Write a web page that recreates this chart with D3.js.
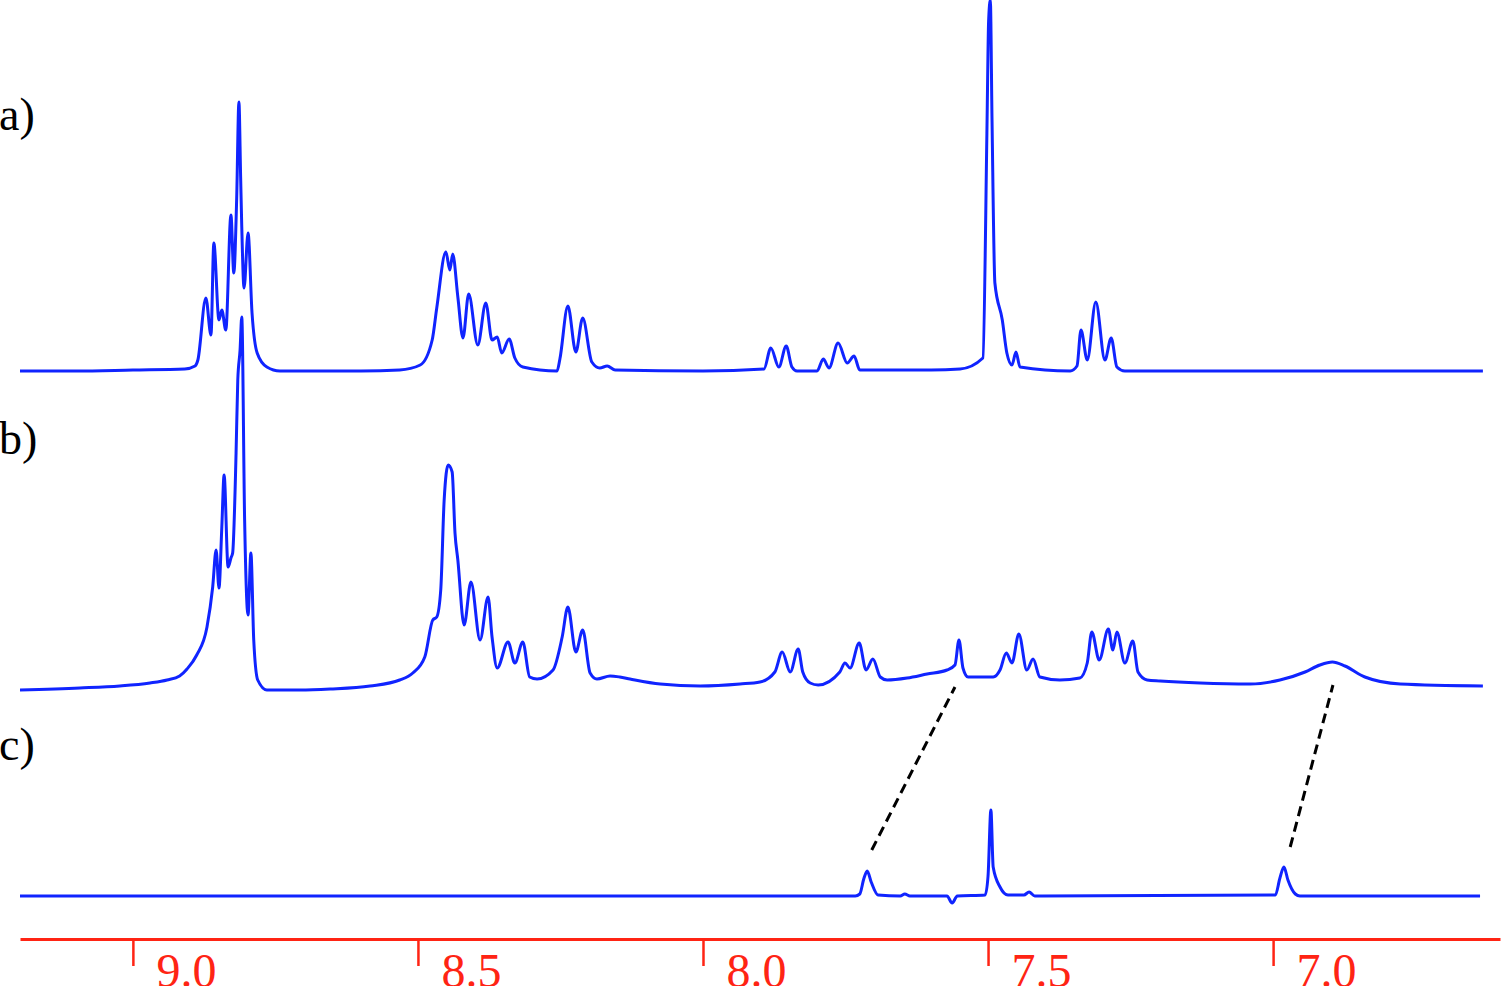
<!DOCTYPE html>
<html>
<head>
<meta charset="utf-8">
<script src="https://cdn.jsdelivr.net/npm/d3@7"></script>
<style>
  html, body { margin:0; padding:0; background:#fff; overflow:hidden; }
  svg { display:block; }
</style>
</head>
<body>
<svg id="chart" width="1501" height="986"></svg>
<script>
// ── chemical shift axis (ppm) ──
const PPM_RANGE = [9.198, 6.602];
const TICKS = [9.0, 8.5, 8.0, 7.5, 7.0];
const TRACE_LABELS = ['a)', 'b)', 'c)'];

// ── spectra, [ppm, intensity] (arbitrary units) ──
const SPEC_A = [
  [9.198,0],[9.100,0],[9.000,1],[8.909,2],[8.891,5],[8.886,11],[8.872,73],[8.863,36],
  [8.858,128],[8.849,51],[8.844,61],[8.837,41],[8.828,156],[8.823,98],[8.818,171],
  [8.814,269],[8.811,194],[8.809,144],[8.805,83],[8.798,138],[8.791,58],[8.782,18],
  [8.765,4],[8.742,0],[8.600,0],[8.532,1],[8.496,6],[8.475,31],[8.467,63],[8.451,119],
  [8.444,101],[8.439,117],[8.430,74],[8.421,33],[8.411,77],[8.395,26],[8.381,68],
  [8.370,31],[8.361,34],[8.353,18],[8.340,32],[8.330,13],[8.316,4],[8.256,0],
  [8.251,12],[8.237,65],[8.223,19],[8.211,53],[8.195,9],[8.181,3],[8.168,5],[8.154,1],
  [8.000,0],[7.893,2],[7.881,23],[7.867,4],[7.854,25],[7.844,4],[7.835,0],[7.800,0],
  [7.789,12],[7.779,3],[7.763,28],[7.747,8],[7.735,15],[7.725,1],[7.600,1],[7.549,2],
  [7.509,13],[7.502,238],[7.499,350],[7.496,371],[7.493,250],[7.488,88],[7.475,51],
  [7.467,18],[7.458,6],[7.451,19],[7.444,4],[7.356,0],[7.344,5],[7.337,41],[7.326,11],
  [7.311,69],[7.295,11],[7.284,33],[7.274,4],[7.260,0],[7.000,0],[6.632,0]
];
const SPEC_B = [
  [9.198,0],[9.093,2],[9.023,4],[8.970,7],[8.940,10],[8.918,14],[8.905,21],[8.888,35],
  [8.870,63],[8.860,103],
  [8.854,140],[8.849,102],[8.844,163],[8.840,215],[8.833,123],[8.828,132],[8.825,137],
  [8.819,237],[8.816,310],[8.812,340],[8.809,373],[8.804,170],[8.798,75],[8.793,137],
  [8.788,50],[8.781,10],[8.765,0],[8.707,0],[8.654,1],[8.584,4],[8.532,10],[8.509,17],
  [8.488,33],[8.474,70],[8.467,73],[8.460,100],[8.454,190],[8.447,225],[8.440,218],
  [8.435,157],[8.430,130],[8.419,65],[8.407,108],[8.391,50],[8.377,93],[8.370,53],
  [8.361,22],[8.342,48],[8.330,27],[8.316,48],[8.304,13],[8.291,11],[8.263,20],
  [8.247,53],[8.237,83],[8.223,38],[8.211,60],[8.198,17],[8.186,11],[8.163,14],
  [8.146,13],[8.128,11],[8.075,6],[8.005,4],[7.935,6],[7.900,8],[7.874,18],[7.861,38],
  [7.847,18],[7.833,41],[7.825,18],[7.812,7],[7.798,5],[7.760,18],[7.751,27],[7.742,22],
  [7.726,47],[7.714,20],[7.702,31],[7.689,13],[7.677,10],[7.642,12],[7.607,16],
  [7.572,20],[7.558,25],[7.551,50],[7.544,22],[7.535,13],[7.491,13],[7.479,20],
  [7.468,37],[7.458,27],[7.446,56],[7.432,20],[7.421,31],[7.409,13],[7.374,10],
  [7.339,12],[7.326,27],[7.318,58],[7.305,30],[7.289,61],[7.281,40],[7.274,58],
  [7.260,27],[7.246,49],[7.237,18],[7.221,10],[7.198,9],[7.128,7],[7.040,6],[6.988,10],
  [6.944,18],[6.918,25],[6.896,28],[6.874,24],[6.839,13],[6.777,6],[6.632,4]
];
const SPEC_C = [
  [9.198,0],[8.500,0],[7.733,0],[7.725,2],[7.718,17],[7.712,25],[7.705,14],[7.693,1],
  [7.654,0],[7.646,2],[7.637,0],[7.572,0],[7.563,-7],[7.554,0],[7.505,1],[7.500,20],
  [7.495,86],[7.491,29],[7.479,9],[7.465,1],[7.437,1],[7.428,4],[7.418,0],[6.996,1],
  [6.988,18],[6.981,29],[6.974,16],[6.961,2],[6.953,0],[6.637,0]
];

// dashed correlation lines between trace c and trace b
const LINKS = [
  { from:{ trace:2, ppm:7.704, v:46 }, to:{ trace:1, ppm:7.558, v:3 } },
  { from:{ trace:2, ppm:6.970, v:49 }, to:{ trace:1, ppm:6.895, v:5 } },
];

const SPECTRA = [SPEC_A, SPEC_B, SPEC_C];
const BASELINES = [371, 690, 896];
const LABEL_Y = [130, 454, 760];

const svg = d3.select('#chart');
const BLUE = '#1024ff', RED = '#ff2414';

const x = d3.scaleLinear().domain(PPM_RANGE).range([20, 1500]);
const yScales = BASELINES.map(b => d3.scaleLinear().domain([0, 100]).range([b, b - 100]));

// traces
SPECTRA.forEach((spec, i) => {
  const line = d3.line()
    .x(d => x(d[0]))
    .y(d => yScales[i](d[1]))
    .curve(d3.curveMonotoneX);
  svg.append('path')
    .datum(spec)
    .attr('d', line)
    .attr('fill', 'none')
    .attr('stroke', BLUE)
    .attr('stroke-width', 3)
    .attr('stroke-linejoin', 'round');
});

// a) b) c)
svg.selectAll('text.trace-label')
  .data(TRACE_LABELS)
  .join('text')
  .attr('class', 'trace-label')
  .attr('x', -1)
  .attr('y', (d, i) => LABEL_Y[i])
  .attr('font-family', '"Liberation Serif", "Times New Roman", serif')
  .attr('font-size', 46)
  .attr('fill', '#000')
  .text(d => d);

// dashed links
svg.selectAll('line.link')
  .data(LINKS)
  .join('line')
  .attr('class', 'link')
  .attr('x1', d => x(d.from.ppm)).attr('y1', d => yScales[d.from.trace](d.from.v))
  .attr('x2', d => x(d.to.ppm)).attr('y2', d => yScales[d.to.trace](d.to.v))
  .attr('stroke', '#000')
  .attr('stroke-width', 3)
  .attr('stroke-dasharray', '10,6');

// ppm axis
const axis = d3.axisBottom(x)
  .tickValues(TICKS)
  .tickFormat(d3.format('.1f'))
  .tickSize(27)
  .tickSizeOuter(0);

const gAx = svg.append('g')
  .attr('transform', 'translate(0,939)')
  .call(axis);

gAx.select('.domain').attr('stroke', RED).attr('stroke-width', 3);
gAx.selectAll('.tick line').attr('stroke', RED).attr('stroke-width', 2.5);
gAx.selectAll('.tick text')
  .attr('fill', RED)
  .attr('x', 23)
  .attr('y', 48)
  .attr('dy', 0)
  .attr('text-anchor', 'start')
  .attr('font-family', '"Liberation Serif", "Times New Roman", serif')
  .attr('font-size', 48);
</script>
</body>
</html>
